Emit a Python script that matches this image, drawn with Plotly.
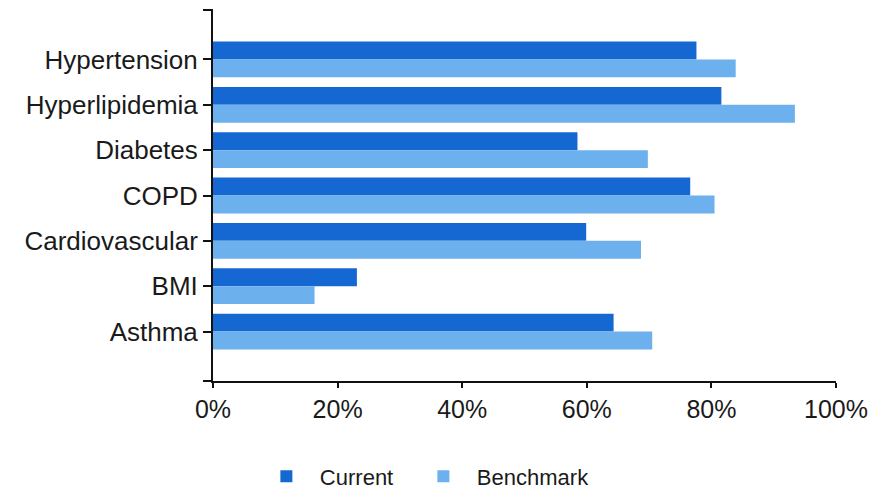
import plotly.graph_objects as go

categories = ["Hypertension", "Hyperlipidemia", "Diabetes", "COPD", "Cardiovascular", "BMI", "Asthma"]
current = [77.6, 81.6, 58.5, 76.6, 59.9, 23.1, 64.3]
benchmark = [83.9, 93.4, 69.8, 80.5, 68.7, 16.3, 70.5]
x_ticks = [0, 20, 40, 60, 80, 100]
x_tick_labels = ["0%", "20%", "40%", "60%", "80%", "100%"]

FONT = "Liberation Sans, Arial, sans-serif"
TXT = "#1a1a1a"
AX = "#111111"

fig = go.Figure()
fig.add_trace(go.Bar(y=categories, x=current, name="Current", orientation="h",
                     marker=dict(color="#1568D2", line=dict(width=0)), legend="legend"))
fig.add_trace(go.Bar(y=categories, x=benchmark, name="Benchmark", orientation="h",
                     marker=dict(color="#6DB0EE", line=dict(width=0)), legend="legend2"))

# small end ticks on the axes (axis decoration)
fig.add_shape(type="line", xref="paper", xsizemode="pixel", xanchor=0, x0=-10, x1=0,
              yref="paper", y0=1, y1=1, line=dict(color=AX, width=2))
fig.add_shape(type="line", xref="paper", xsizemode="pixel", xanchor=0, x0=-10, x1=0,
              yref="paper", y0=0, y1=0, line=dict(color=AX, width=2))

legend_common = dict(orientation="h", y=-0.257, yanchor="middle", xanchor="left",
                     font=dict(size=22, family=FONT, color=TXT), itemwidth=57)

fig.update_layout(
    width=876, height=482,
    margin=dict(l=205, r=48, t=2, b=109, autoexpand=False),
    paper_bgcolor="white", plot_bgcolor="white",
    barmode="group", bargap=0.21, bargroupgap=0,
    font=dict(family=FONT, color=TXT, size=24),
    showlegend=True,
    legend=dict(x=0.064, **legend_common),
    legend2=dict(x=0.316, **legend_common),
    xaxis=dict(range=[0, 100], tickvals=x_ticks, ticktext=x_tick_labels,
               showgrid=False, zeroline=False, showline=True, linecolor=AX, linewidth=2,
               ticks="outside", ticklen=5, tickcolor=AX, tickwidth=2,
               tickfont=dict(size=25, family=FONT, color=TXT)),
    yaxis=dict(categoryorder="array", categoryarray=categories, range=[7.09, -1.09],
               showgrid=False, zeroline=False, showline=True, linecolor=AX, linewidth=2,
               ticks="outside", ticklen=8, tickcolor=AX, tickwidth=2,
               tickfont=dict(size=26, family=FONT, color=TXT)),
)

fig.write_html("out.html")
